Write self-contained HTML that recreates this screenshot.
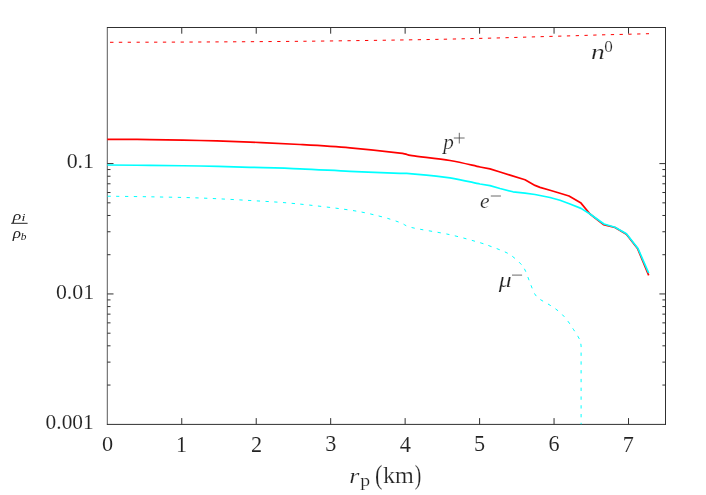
<!DOCTYPE html>
<html><head><meta charset="utf-8"><title>plot</title>
<style>
html,body{margin:0;padding:0;background:#fff;}
svg{display:block}
text{font-family:"Liberation Serif",serif;fill:#222;paint-order:fill stroke;}
</style></head><body>
<svg width="706" height="495" viewBox="0 0 706 495">
<rect width="706" height="495" fill="#fff"/>
<g fill="none" stroke="#303030" stroke-width="1">
<path d="M107,27.5 H666 M665.5,27.5 V424.9 M106.95,424.4 H666"/>
<path d="M107.3,27 V424.9" stroke-width="0.8"/>
<path d="M181.76,424.3 v-6.2 M181.76,27.5 v6.2 M256.22,424.3 v-6.2 M256.22,27.5 v6.2 M330.68,424.3 v-6.2 M330.68,27.5 v6.2 M405.14,424.3 v-6.2 M405.14,27.5 v6.2 M479.60,424.3 v-6.2 M479.60,27.5 v6.2 M554.06,424.3 v-6.2 M554.06,27.5 v6.2 M628.52,424.3 v-6.2 M628.52,27.5 v6.2 M107.3,163.60 h6.2 M665.6,163.60 h-6.2 M107.3,293.95 h6.2 M665.6,293.95 h-6.2 M107.3,254.71 h3.2 M665.6,254.71 h-3.2 M107.3,231.76 h3.2 M665.6,231.76 h-3.2 M107.3,215.47 h3.2 M665.6,215.47 h-3.2 M107.3,202.84 h3.2 M665.6,202.84 h-3.2 M107.3,192.52 h3.2 M665.6,192.52 h-3.2 M107.3,183.79 h3.2 M665.6,183.79 h-3.2 M107.3,176.23 h3.2 M665.6,176.23 h-3.2 M107.3,169.56 h3.2 M665.6,169.56 h-3.2 M107.3,385.06 h3.2 M665.6,385.06 h-3.2 M107.3,362.11 h3.2 M665.6,362.11 h-3.2 M107.3,345.82 h3.2 M665.6,345.82 h-3.2 M107.3,333.19 h3.2 M665.6,333.19 h-3.2 M107.3,322.87 h3.2 M665.6,322.87 h-3.2 M107.3,314.14 h3.2 M665.6,314.14 h-3.2 M107.3,306.58 h3.2 M665.6,306.58 h-3.2 M107.3,299.91 h3.2 M665.6,299.91 h-3.2"/>
</g>
<g fill="none" stroke-linejoin="round">
<path d="M107.30,42.30 C122.75,42.25 167.88,42.17 200.00,42.00 C232.12,41.83 266.67,41.63 300.00,41.30 C333.33,40.97 375.00,40.37 400.00,40.00 C425.00,39.63 433.33,39.45 450.00,39.10 L500.00,37.90 L550.00,36.40 L576.00,35.70 L600.00,34.90 L626.00,34.30 L649.00,33.70" stroke="#ff0000" stroke-width="1" stroke-dasharray="3.3 5.482" stroke-dashoffset="-3"/>
<path d="M107.30,196.20 C114.42,196.30 134.55,196.50 150.00,196.80 C165.45,197.10 183.33,197.38 200.00,198.00 C216.67,198.62 234.17,199.57 250.00,200.50 C265.83,201.43 278.33,202.00 295.00,203.60 C311.67,205.20 335.83,207.98 350.00,210.10 C364.17,212.22 371.67,214.23 380.00,216.30 C388.33,218.37 394.67,220.62 400.00,222.50 C405.33,224.38 403.67,225.57 412.00,227.60 C420.33,229.63 438.67,232.18 450.00,234.70 C461.33,237.22 473.33,240.80 480.00,242.70 C486.67,244.60 486.67,244.90 490.00,246.10 C493.33,247.30 496.67,248.48 500.00,249.90 C503.33,251.32 506.67,252.40 510.00,254.60 C513.33,256.80 517.50,260.53 520.00,263.10 C522.50,265.67 523.33,266.73 525.00,270.00 C526.67,273.27 528.42,278.78 530.00,282.70 C531.58,286.62 532.93,290.80 534.50,293.50 C536.07,296.20 537.37,297.28 539.40,298.90 C541.43,300.52 544.07,301.58 546.70,303.20 C549.33,304.82 552.58,306.68 555.20,308.60 C557.82,310.52 560.18,312.47 562.40,314.70 C564.62,316.93 566.68,319.58 568.50,322.00 C570.32,324.42 571.68,326.73 573.30,329.20 C574.92,331.67 576.98,334.67 578.20,336.80 C579.42,338.93 580.12,340.47 580.60,342.00 L581.10,346.00 L581.10,424.30" stroke="#00ffff" stroke-width="1" stroke-dasharray="3.3 5.482" stroke-dashoffset="-0.2"/>
<path d="M107.30,139.30 C114.42,139.35 134.55,139.40 150.00,139.60 C165.45,139.80 183.33,140.08 200.00,140.50 C216.67,140.92 233.33,141.43 250.00,142.10 C266.67,142.77 283.33,143.55 300.00,144.50 C316.67,145.45 333.33,146.37 350.00,147.80 C366.67,149.23 389.67,151.78 400.00,153.10 C410.33,154.42 403.67,154.47 412.00,155.70 C420.33,156.93 438.67,158.62 450.00,160.50 C461.33,162.38 473.33,165.60 480.00,167.00 L490.00,168.90 L500.00,172.00 L510.00,175.10 L525.00,179.70 L535.00,185.40 L540.00,187.40 L550.00,190.20 L560.00,193.20 L569.00,196.00 L581.00,203.10 L590.00,214.00 L603.50,224.70 L615.00,227.50 L626.40,234.20 L637.50,248.40 L648.70,275.30" stroke="#ff0000" stroke-width="1.7"/>
<path d="M107.30,165.00 C114.42,165.07 134.55,165.23 150.00,165.40 C165.45,165.57 183.33,165.68 200.00,166.00 C216.67,166.32 233.33,166.83 250.00,167.30 C266.67,167.77 283.33,168.13 300.00,168.80 C316.67,169.47 333.33,170.55 350.00,171.30 C366.67,172.05 389.67,172.88 400.00,173.30 C410.33,173.72 403.67,173.05 412.00,173.80 C420.33,174.55 438.67,176.10 450.00,177.80 C461.33,179.50 473.33,182.70 480.00,184.00 L490.00,185.60 L500.00,188.50 L513.00,191.80 L525.00,193.20 L535.00,194.50 L550.00,197.50 L560.00,200.30 L570.00,204.00 L581.00,208.40 L590.00,214.00 L604.00,224.00 L615.00,227.20 L626.40,233.80 L637.80,248.20 L648.70,273.10" stroke="#00ffff" stroke-width="1.7"/>
</g>
<g opacity="0.999">
<text transform="translate(591.09,58.96) scale(1.255,1)" font-size="21.94px" font-style="italic" stroke="#fff" stroke-width="0.2">n</text>
<text transform="translate(604.36,51.58) scale(1.006,1)" font-size="17.04px" stroke="#fff" stroke-width="0.2">0</text>
<text transform="translate(443.22,149.39) scale(1.041,1)" font-size="20.29px" font-style="italic" stroke="#fff" stroke-width="0.2">p</text>
<text transform="translate(480.00,208.04) scale(1.034,1)" font-size="20.83px" font-style="italic" stroke="#fff" stroke-width="0.2">e</text>
<text transform="translate(498.85,286.52) scale(1.250,1)" font-size="20.60px" font-style="italic" stroke="#fff" stroke-width="0.2">μ</text>
<text transform="translate(349.21,482.66) scale(1.185,1)" font-size="21.94px" font-style="italic" stroke="#fff" stroke-width="0.2">r</text>
<text transform="translate(360.15,486.25) scale(1.257,1)" font-size="15.74px" stroke="#fff" stroke-width="0.2">p</text>
<text transform="translate(374.94,483.50) scale(0.845,1)" font-size="26.44px" stroke="#fff" stroke-width="0.2">(</text>
<text transform="translate(382.97,482.55) scale(1.057,1)" font-size="22.90px" stroke="#fff" stroke-width="0.2">km</text>
<text transform="translate(414.86,483.50) scale(0.742,1)" font-size="26.44px" stroke="#fff" stroke-width="0.2">)</text>
<text transform="translate(12.65,219.59) scale(1.405,1)" font-size="12.65px" font-style="italic">ρ</text>
<text transform="translate(21.57,221.35) scale(1.251,1)" font-size="11.36px" font-style="italic">i</text>
<text transform="translate(12.64,237.55) scale(1.240,1)" font-size="13.82px" font-style="italic">ρ</text>
<text transform="translate(20.69,240.24) scale(1.050,1)" font-size="10.86px" font-style="italic">b</text>
<text transform="translate(66.67,168.25) scale(1.096,1)" font-size="20.00px" stroke="#fff" stroke-width="0.1">0.1</text>
<text transform="translate(55.88,299.13) scale(1.038,1)" font-size="21.03px" stroke="#fff" stroke-width="0.1">0.01</text>
<text transform="translate(45.59,429.45) scale(1.062,1)" font-size="20.15px" stroke="#fff" stroke-width="0.1">0.001</text>
<text transform="translate(101.88,451.43) scale(1.015,1)" font-size="21.93px" stroke="#fff" stroke-width="0.1">0</text>
<text transform="translate(176.05,451.65) scale(0.979,1)" font-size="22.60px" stroke="#fff" stroke-width="0.1">1</text>
<text transform="translate(250.92,451.65) scale(0.991,1)" font-size="22.42px" stroke="#fff" stroke-width="0.1">2</text>
<text transform="translate(325.16,451.43) scale(1.007,1)" font-size="22.09px" stroke="#fff" stroke-width="0.1">3</text>
<text transform="translate(399.65,451.76) scale(0.981,1)" font-size="22.77px" stroke="#fff" stroke-width="0.1">4</text>
<text transform="translate(473.97,451.43) scale(0.999,1)" font-size="22.26px" stroke="#fff" stroke-width="0.1">5</text>
<text transform="translate(548.48,451.43) scale(1.008,1)" font-size="22.09px" stroke="#fff" stroke-width="0.1">6</text>
<text transform="translate(622.72,451.76) scale(0.977,1)" font-size="22.77px" stroke="#fff" stroke-width="0.1">7</text>
</g>
<g fill="none" stroke="#444" stroke-width="0.8">
<path d="M453.8,138 H464.6 M459.3,132.8 V143.5"/>
<path d="M490.8,196 H500.9"/>
<path d="M512,275.1 H522.1"/>
<path d="M11.2,223.3 H27.6" stroke="#222" stroke-width="1"/>
</g>
</svg>
</body></html>
